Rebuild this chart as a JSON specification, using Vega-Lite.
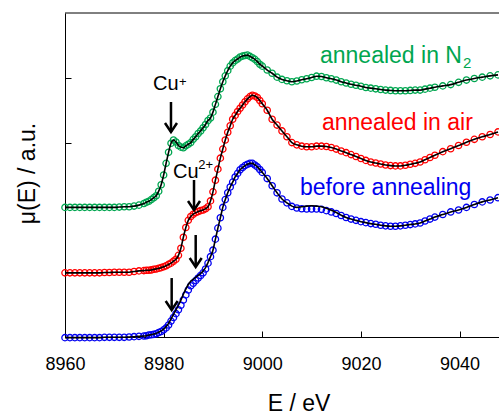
{
"$schema":"https://vega.github.io/schema/vega-lite/v6.json",
"width":434,"height":324,
"autosize":{"type":"none"},
"padding":{"left":65,"top":13,"right":0,"bottom":75},
"config":{"view":{"stroke":null},"font":"Liberation Sans"},
"datasets":{
"spec":[
{"s":"g","E":8960,"mu":2.0},{"s":"g","E":8961,"mu":2.0},{"s":"g","E":8962,"mu":2.0},{"s":"g","E":8963,"mu":2.0},{"s":"g","E":8964,"mu":2.0},{"s":"g","E":8965,"mu":2.0},{"s":"g","E":8966,"mu":2.0},{"s":"g","E":8967,"mu":2.0},{"s":"g","E":8968,"mu":2.0},{"s":"g","E":8969,"mu":2.0},{"s":"g","E":8970,"mu":2.0},{"s":"g","E":8971,"mu":2.005},{"s":"g","E":8972,"mu":2.01},{"s":"g","E":8973,"mu":2.01},{"s":"g","E":8974,"mu":2.02},{"s":"g","E":8975,"mu":2.035},{"s":"g","E":8976,"mu":2.06},{"s":"g","E":8976.5,"mu":2.08},{"s":"g","E":8977,"mu":2.095},{"s":"g","E":8977.5,"mu":2.12},{"s":"g","E":8978,"mu":2.15},{"s":"g","E":8978.5,"mu":2.18},{"s":"g","E":8979,"mu":2.25},{"s":"g","E":8979.5,"mu":2.35},{"s":"g","E":8980,"mu":2.5},{"s":"g","E":8980.5,"mu":2.68},{"s":"g","E":8981,"mu":2.85},{"s":"g","E":8981.5,"mu":2.99},{"s":"g","E":8982,"mu":3.04},{"s":"g","E":8982.5,"mu":3.01},{"s":"g","E":8983,"mu":2.955},{"s":"g","E":8983.5,"mu":2.93},{"s":"g","E":8984,"mu":2.92},{"s":"g","E":8984.5,"mu":2.95},{"s":"g","E":8985,"mu":2.975},{"s":"g","E":8985.5,"mu":3.0},{"s":"g","E":8986,"mu":3.05},{"s":"g","E":8986.5,"mu":3.09},{"s":"g","E":8987,"mu":3.14},{"s":"g","E":8987.5,"mu":3.18},{"s":"g","E":8988,"mu":3.23},{"s":"g","E":8988.5,"mu":3.28},{"s":"g","E":8989,"mu":3.34},{"s":"g","E":8989.5,"mu":3.38},{"s":"g","E":8990,"mu":3.47},{"s":"g","E":8990.5,"mu":3.59},{"s":"g","E":8991,"mu":3.71},{"s":"g","E":8991.5,"mu":3.83},{"s":"g","E":8992,"mu":3.94},{"s":"g","E":8992.5,"mu":4.03},{"s":"g","E":8993,"mu":4.11},{"s":"g","E":8993.5,"mu":4.18},{"s":"g","E":8994,"mu":4.23},{"s":"g","E":8994.5,"mu":4.265},{"s":"g","E":8995,"mu":4.29},{"s":"g","E":8995.5,"mu":4.32},{"s":"g","E":8996,"mu":4.335},{"s":"g","E":8996.5,"mu":4.345},{"s":"g","E":8997,"mu":4.35},{"s":"g","E":8997.5,"mu":4.33},{"s":"g","E":8998,"mu":4.31},{"s":"g","E":8998.5,"mu":4.285},{"s":"g","E":8999,"mu":4.25},{"s":"g","E":8999.5,"mu":4.21},{"s":"g","E":9000,"mu":4.18},{"s":"g","E":9001,"mu":4.12},{"s":"g","E":9002,"mu":4.07},{"s":"g","E":9003,"mu":4.01},{"s":"g","E":9004,"mu":3.975},{"s":"g","E":9005,"mu":3.955},{"s":"g","E":9006,"mu":3.94},{"s":"g","E":9007,"mu":3.95},{"s":"g","E":9008,"mu":3.97},{"s":"g","E":9009,"mu":3.985},{"s":"g","E":9010,"mu":4.005},{"s":"g","E":9011,"mu":4.025},{"s":"g","E":9012,"mu":4.02},{"s":"g","E":9013,"mu":4.0},{"s":"g","E":9014,"mu":3.985},{"s":"g","E":9015,"mu":3.965},{"s":"g","E":9016,"mu":3.94},{"s":"g","E":9017,"mu":3.92},{"s":"g","E":9018,"mu":3.9},{"s":"g","E":9019,"mu":3.885},{"s":"g","E":9020,"mu":3.87},{"s":"g","E":9021,"mu":3.85},{"s":"g","E":9022,"mu":3.84},{"s":"g","E":9023,"mu":3.83},{"s":"g","E":9024,"mu":3.82},{"s":"g","E":9025,"mu":3.81},{"s":"g","E":9026,"mu":3.805},{"s":"g","E":9027,"mu":3.8},{"s":"g","E":9028,"mu":3.8},{"s":"g","E":9029,"mu":3.8},{"s":"g","E":9030,"mu":3.805},{"s":"g","E":9031,"mu":3.81},{"s":"g","E":9032,"mu":3.81},{"s":"g","E":9033,"mu":3.825},{"s":"g","E":9034,"mu":3.84},{"s":"g","E":9035,"mu":3.855},{"s":"g","E":9036.6,"mu":3.875},{"s":"g","E":9038.2,"mu":3.895},{"s":"g","E":9039.8,"mu":3.93},{"s":"g","E":9041.4,"mu":3.965},{"s":"g","E":9043,"mu":3.99},{"s":"g","E":9044.6,"mu":4.01},{"s":"g","E":9046.2,"mu":4.03},{"s":"g","E":9047.8,"mu":4.045},
{"s":"r","E":8960,"mu":0.99},{"s":"r","E":8961,"mu":0.99},{"s":"r","E":8962,"mu":0.99},{"s":"r","E":8963,"mu":0.99},{"s":"r","E":8964,"mu":0.99},{"s":"r","E":8965,"mu":0.99},{"s":"r","E":8966,"mu":0.99},{"s":"r","E":8967,"mu":0.99},{"s":"r","E":8968,"mu":0.995},{"s":"r","E":8969,"mu":0.995},{"s":"r","E":8970,"mu":1.0},{"s":"r","E":8971,"mu":1.0},{"s":"r","E":8972,"mu":1.0},{"s":"r","E":8973,"mu":1.0},{"s":"r","E":8974,"mu":1.01},{"s":"r","E":8975,"mu":1.02},{"s":"r","E":8976,"mu":1.025},{"s":"r","E":8976.5,"mu":1.03},{"s":"r","E":8977,"mu":1.03},{"s":"r","E":8977.5,"mu":1.035},{"s":"r","E":8978,"mu":1.045},{"s":"r","E":8978.5,"mu":1.05},{"s":"r","E":8979,"mu":1.06},{"s":"r","E":8979.5,"mu":1.07},{"s":"r","E":8980,"mu":1.085},{"s":"r","E":8980.5,"mu":1.1},{"s":"r","E":8981,"mu":1.12},{"s":"r","E":8981.5,"mu":1.14},{"s":"r","E":8982,"mu":1.17},{"s":"r","E":8982.5,"mu":1.2},{"s":"r","E":8983,"mu":1.26},{"s":"r","E":8983.5,"mu":1.37},{"s":"r","E":8984,"mu":1.54},{"s":"r","E":8984.5,"mu":1.69},{"s":"r","E":8985,"mu":1.8},{"s":"r","E":8985.5,"mu":1.86},{"s":"r","E":8986,"mu":1.895},{"s":"r","E":8986.5,"mu":1.92},{"s":"r","E":8987,"mu":1.935},{"s":"r","E":8987.5,"mu":1.95},{"s":"r","E":8988,"mu":1.96},{"s":"r","E":8988.5,"mu":1.98},{"s":"r","E":8989,"mu":2.01},{"s":"r","E":8989.5,"mu":2.1},{"s":"r","E":8990,"mu":2.24},{"s":"r","E":8990.5,"mu":2.42},{"s":"r","E":8991,"mu":2.59},{"s":"r","E":8991.5,"mu":2.76},{"s":"r","E":8992,"mu":2.9},{"s":"r","E":8992.5,"mu":3.04},{"s":"r","E":8993,"mu":3.16},{"s":"r","E":8993.5,"mu":3.26},{"s":"r","E":8994,"mu":3.36},{"s":"r","E":8994.5,"mu":3.42},{"s":"r","E":8995,"mu":3.48},{"s":"r","E":8995.5,"mu":3.53},{"s":"r","E":8996,"mu":3.58},{"s":"r","E":8996.5,"mu":3.63},{"s":"r","E":8997,"mu":3.675},{"s":"r","E":8997.5,"mu":3.71},{"s":"r","E":8998,"mu":3.73},{"s":"r","E":8998.5,"mu":3.72},{"s":"r","E":8999,"mu":3.695},{"s":"r","E":8999.5,"mu":3.65},{"s":"r","E":9000,"mu":3.6},{"s":"r","E":9001,"mu":3.5},{"s":"r","E":9002,"mu":3.36},{"s":"r","E":9003,"mu":3.27},{"s":"r","E":9004,"mu":3.18},{"s":"r","E":9005,"mu":3.09},{"s":"r","E":9006,"mu":3.0},{"s":"r","E":9007,"mu":2.965},{"s":"r","E":9008,"mu":2.945},{"s":"r","E":9009,"mu":2.935},{"s":"r","E":9010,"mu":2.935},{"s":"r","E":9011,"mu":2.945},{"s":"r","E":9012,"mu":2.945},{"s":"r","E":9013,"mu":2.94},{"s":"r","E":9014,"mu":2.925},{"s":"r","E":9015,"mu":2.9},{"s":"r","E":9016,"mu":2.87},{"s":"r","E":9017,"mu":2.845},{"s":"r","E":9018,"mu":2.815},{"s":"r","E":9019,"mu":2.785},{"s":"r","E":9020,"mu":2.755},{"s":"r","E":9021,"mu":2.725},{"s":"r","E":9022,"mu":2.7},{"s":"r","E":9023,"mu":2.685},{"s":"r","E":9024,"mu":2.67},{"s":"r","E":9025,"mu":2.655},{"s":"r","E":9026,"mu":2.645},{"s":"r","E":9027,"mu":2.64},{"s":"r","E":9028,"mu":2.64},{"s":"r","E":9029,"mu":2.65},{"s":"r","E":9030,"mu":2.665},{"s":"r","E":9031,"mu":2.68},{"s":"r","E":9032,"mu":2.7},{"s":"r","E":9033,"mu":2.735},{"s":"r","E":9034,"mu":2.77},{"s":"r","E":9035,"mu":2.805},{"s":"r","E":9036.6,"mu":2.86},{"s":"r","E":9038.2,"mu":2.905},{"s":"r","E":9039.8,"mu":2.955},{"s":"r","E":9041.4,"mu":3.005},{"s":"r","E":9043,"mu":3.05},{"s":"r","E":9044.6,"mu":3.09},{"s":"r","E":9046.2,"mu":3.125},{"s":"r","E":9047.8,"mu":3.165},
{"s":"b","E":8960,"mu":-0.01,"f":-0.01},{"s":"b","E":8961,"mu":-0.01,"f":-0.01},{"s":"b","E":8962,"mu":-0.01,"f":-0.01},{"s":"b","E":8963,"mu":-0.01,"f":-0.01},{"s":"b","E":8964,"mu":-0.01,"f":-0.01},{"s":"b","E":8965,"mu":-0.01,"f":-0.01},{"s":"b","E":8966,"mu":-0.01,"f":-0.01},{"s":"b","E":8967,"mu":-0.01,"f":-0.01},{"s":"b","E":8968,"mu":-0.005,"f":-0.005},{"s":"b","E":8969,"mu":-0.005,"f":-0.005},{"s":"b","E":8970,"mu":-0.005,"f":-0.005},{"s":"b","E":8971,"mu":-0.005,"f":-0.005},{"s":"b","E":8972,"mu":-0.005,"f":-0.005},{"s":"b","E":8973,"mu":0.0,"f":0.0},{"s":"b","E":8974,"mu":0.005,"f":0.005},{"s":"b","E":8975,"mu":0.01,"f":0.01},{"s":"b","E":8976,"mu":0.015,"f":0.015},{"s":"b","E":8976.5,"mu":0.02,"f":0.02},{"s":"b","E":8977,"mu":0.03,"f":0.03},{"s":"b","E":8977.5,"mu":0.035,"f":0.035},{"s":"b","E":8978,"mu":0.04,"f":0.045},{"s":"b","E":8978.5,"mu":0.05,"f":0.055},{"s":"b","E":8979,"mu":0.07,"f":0.075},{"s":"b","E":8979.5,"mu":0.085,"f":0.095},{"s":"b","E":8980,"mu":0.11,"f":0.12},{"s":"b","E":8980.5,"mu":0.14,"f":0.16},{"s":"b","E":8981,"mu":0.185,"f":0.21},{"s":"b","E":8981.5,"mu":0.245,"f":0.28},{"s":"b","E":8982,"mu":0.3,"f":0.35},{"s":"b","E":8982.5,"mu":0.36,"f":0.42},{"s":"b","E":8983,"mu":0.42,"f":0.49},{"s":"b","E":8983.5,"mu":0.49,"f":0.57},{"s":"b","E":8984,"mu":0.57,"f":0.66},{"s":"b","E":8984.5,"mu":0.65,"f":0.74},{"s":"b","E":8985,"mu":0.725,"f":0.81},{"s":"b","E":8985.5,"mu":0.79,"f":0.86},{"s":"b","E":8986,"mu":0.83,"f":0.89},{"s":"b","E":8986.5,"mu":0.87,"f":0.92},{"s":"b","E":8987,"mu":0.91,"f":0.95},{"s":"b","E":8987.5,"mu":0.95,"f":0.98},{"s":"b","E":8988,"mu":0.99,"f":1.02},{"s":"b","E":8988.5,"mu":1.05,"f":1.07},{"s":"b","E":8989,"mu":1.14,"f":1.15},{"s":"b","E":8989.5,"mu":1.24,"f":1.24},{"s":"b","E":8990,"mu":1.34,"f":1.34},{"s":"b","E":8990.5,"mu":1.51,"f":1.51},{"s":"b","E":8991,"mu":1.68,"f":1.68},{"s":"b","E":8991.5,"mu":1.84,"f":1.84},{"s":"b","E":8992,"mu":2.0,"f":2.0},{"s":"b","E":8992.5,"mu":2.12,"f":2.12},{"s":"b","E":8993,"mu":2.225,"f":2.225},{"s":"b","E":8993.5,"mu":2.315,"f":2.315},{"s":"b","E":8994,"mu":2.39,"f":2.39},{"s":"b","E":8994.5,"mu":2.47,"f":2.47},{"s":"b","E":8995,"mu":2.525,"f":2.525},{"s":"b","E":8995.5,"mu":2.58,"f":2.58},{"s":"b","E":8996,"mu":2.615,"f":2.615},{"s":"b","E":8996.5,"mu":2.645,"f":2.645},{"s":"b","E":8997,"mu":2.665,"f":2.665},{"s":"b","E":8997.5,"mu":2.68,"f":2.68},{"s":"b","E":8998,"mu":2.68,"f":2.68},{"s":"b","E":8998.5,"mu":2.655,"f":2.655},{"s":"b","E":8999,"mu":2.625,"f":2.625},{"s":"b","E":8999.5,"mu":2.585,"f":2.585},{"s":"b","E":9000,"mu":2.54,"f":2.54},{"s":"b","E":9001,"mu":2.445,"f":2.445},{"s":"b","E":9002,"mu":2.335,"f":2.335},{"s":"b","E":9003,"mu":2.225,"f":2.225},{"s":"b","E":9004,"mu":2.13,"f":2.13},{"s":"b","E":9005,"mu":2.07,"f":2.07},{"s":"b","E":9006,"mu":2.015,"f":2.02},{"s":"b","E":9007,"mu":1.99,"f":2.0},{"s":"b","E":9008,"mu":1.98,"f":2.01},{"s":"b","E":9009,"mu":1.975,"f":2.02},{"s":"b","E":9010,"mu":1.975,"f":2.025},{"s":"b","E":9011,"mu":1.975,"f":2.02},{"s":"b","E":9012,"mu":1.97,"f":2.01},{"s":"b","E":9013,"mu":1.95,"f":1.985},{"s":"b","E":9014,"mu":1.93,"f":1.955},{"s":"b","E":9015,"mu":1.905,"f":1.92},{"s":"b","E":9016,"mu":1.875,"f":1.88},{"s":"b","E":9017,"mu":1.845,"f":1.845},{"s":"b","E":9018,"mu":1.82,"f":1.82},{"s":"b","E":9019,"mu":1.8,"f":1.8},{"s":"b","E":9020,"mu":1.78,"f":1.78},{"s":"b","E":9021,"mu":1.765,"f":1.765},{"s":"b","E":9022,"mu":1.75,"f":1.75},{"s":"b","E":9023,"mu":1.74,"f":1.74},{"s":"b","E":9024,"mu":1.725,"f":1.725},{"s":"b","E":9025,"mu":1.715,"f":1.715},{"s":"b","E":9026,"mu":1.71,"f":1.71},{"s":"b","E":9027,"mu":1.71,"f":1.71},{"s":"b","E":9028,"mu":1.715,"f":1.715},{"s":"b","E":9029,"mu":1.725,"f":1.725},{"s":"b","E":9030,"mu":1.735,"f":1.735},{"s":"b","E":9031,"mu":1.745,"f":1.745},{"s":"b","E":9032,"mu":1.76,"f":1.76},{"s":"b","E":9033,"mu":1.79,"f":1.79},{"s":"b","E":9034,"mu":1.82,"f":1.82},{"s":"b","E":9035,"mu":1.85,"f":1.85},{"s":"b","E":9036.6,"mu":1.89,"f":1.89},{"s":"b","E":9038.2,"mu":1.93,"f":1.93},{"s":"b","E":9039.8,"mu":1.96,"f":1.96},{"s":"b","E":9041.4,"mu":2.0,"f":2.0},{"s":"b","E":9043,"mu":2.045,"f":2.045},{"s":"b","E":9044.6,"mu":2.085,"f":2.085},{"s":"b","E":9046.2,"mu":2.115,"f":2.115},{"s":"b","E":9047.8,"mu":2.15,"f":2.15}
],
"names":[
{"s":"g","t":"annealed in N","E":9011.7,"mu":4.228},
{"s":"r","t":"annealed in air","E":9012.1,"mu":3.194},
{"s":"b","t":"before annealing","E":9007.65,"mu":2.191}
],
"sub":[{"s":"g","t":"2","E":9040.7,"mu":4.151}],
"cu":[{"t":"Cu","E":8977.84,"mu":3.812},{"t":"Cu","E":8981.9,"mu":2.454}],
"sup":[{"t":"+","E":8983.1,"mu":3.88},{"t":"2+","E":8987.0,"mu":2.586}],
"arrows":[
{"E":8981.49,"top":3.627,"tip":3.164},
{"E":8986.16,"top":2.423,"tip":1.96},
{"E":8986.5,"top":1.574,"tip":1.08},
{"E":8981.63,"top":0.91,"tip":0.417}
]
},
"layer":[
{"data":{"name":"spec"},
 "mark":{"type":"point","shape":"circle","filled":false,"size":40,"strokeWidth":1.3,"opacity":1},
 "encoding":{
  "x":{"field":"E","type":"quantitative","scale":{"domain":[8960,9048],"nice":false,"zero":false},
   "axis":{"values":[8960,8980,9000,9020,9040],"format":"d","title":"E / eV","grid":false,"tickSize":-6,"labelPadding":38,"labelBaseline":"alphabetic","labelFontSize":18,"labelColor":"black","labelFlush":false,"labelFont":"Liberation Sans","domainColor":"black","tickColor":"black","titleFontSize":23,"titleFontWeight":"normal","titleColor":"black","titleFont":"Liberation Sans","titleX":233.5,"titleY":73,"titleBaseline":"alphabetic","titleAlign":"center"}},
  "y":{"field":"mu","type":"quantitative","scale":{"domain":[0,5],"nice":false,"zero":false},
   "axis":{"values":[1,2,3,4],"labels":false,"title":"μ(E) / a.u.","grid":false,"tickSize":-6,"domainColor":"black","tickColor":"black","titleFontSize":23,"titleFontWeight":"normal","titleColor":"black","titleFont":"Liberation Sans","titleX":-31,"titleY":160,"titleBaseline":"alphabetic","titleAlign":"center","titleAngle":-90}},
  "color":{"field":"s","type":"nominal","scale":{"domain":["g","r","b"],"range":["#00a650","#ff0000","#0000f0"]},"legend":null}
 }},
{"data":{"name":"spec"},"transform":[{"filter":"datum.s !== 'b'"}],
 "mark":{"type":"line","color":"black","strokeWidth":1.6,"interpolate":"monotone"},
 "encoding":{"x":{"field":"E","type":"quantitative"},"y":{"field":"mu","type":"quantitative"},"detail":{"field":"s"}}},
{"data":{"name":"spec"},"transform":[{"filter":"datum.s === 'b'"}],
 "mark":{"type":"line","color":"black","strokeWidth":1.6,"interpolate":"monotone"},
 "encoding":{"x":{"field":"E","type":"quantitative"},"y":{"field":"f","type":"quantitative"}}},
{"data":{"values":[{}]},"mark":{"type":"rule","color":"black","strokeWidth":1},"encoding":{"y":{"datum":5,"type":"quantitative"},"x":{"datum":8960,"type":"quantitative"},"x2":{"datum":9048}}},
{"data":{"name":"names"},
 "mark":{"type":"text","fontSize":23,"align":"left","baseline":"alphabetic","font":"Liberation Sans"},
 "encoding":{"x":{"field":"E","type":"quantitative"},"y":{"field":"mu","type":"quantitative"},"text":{"field":"t"},"color":{"field":"s","type":"nominal","legend":null}}},
{"data":{"name":"sub"},
 "mark":{"type":"text","fontSize":15,"align":"left","baseline":"alphabetic","font":"Liberation Sans"},
 "encoding":{"x":{"field":"E","type":"quantitative"},"y":{"field":"mu","type":"quantitative"},"text":{"field":"t"},"color":{"field":"s","type":"nominal","legend":null}}},
{"data":{"name":"cu"},
 "mark":{"type":"text","fontSize":20,"align":"left","baseline":"alphabetic","color":"black","font":"Liberation Sans"},
 "encoding":{"x":{"field":"E","type":"quantitative"},"y":{"field":"mu","type":"quantitative"},"text":{"field":"t"}}},
{"data":{"name":"sup"},
 "mark":{"type":"text","fontSize":13,"align":"left","baseline":"alphabetic","color":"black","font":"Liberation Sans"},
 "encoding":{"x":{"field":"E","type":"quantitative"},"y":{"field":"mu","type":"quantitative"},"text":{"field":"t"}}},
{"data":{"name":"arrows"},
 "mark":{"type":"rule","color":"black","strokeWidth":2.5},
 "encoding":{"x":{"field":"E","type":"quantitative"},"y":{"field":"top","type":"quantitative"},"y2":{"field":"tip"}}},
{"data":{"name":"arrows"},
 "mark":{"type":"point","shape":"M-1,-1.5L0,0L1,-1.5","filled":false,"size":144,"strokeWidth":2.5,"color":"black","opacity":1,"strokeJoin":"miter"},
 "encoding":{"x":{"field":"E","type":"quantitative"},"y":{"field":"tip","type":"quantitative"}}}
]
}
